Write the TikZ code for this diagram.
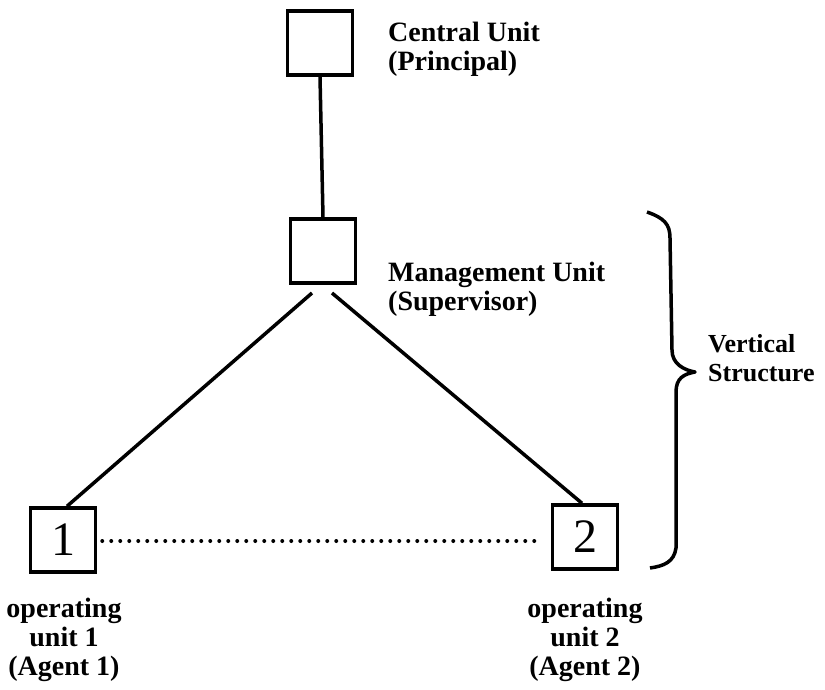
\documentclass[tikz,border=0pt]{standalone}
\usepackage{fontspec}
\setmainfont{Liberation Serif}
\usetikzlibrary{calc}
\begin{document}
\begin{tikzpicture}[x=1pt,y=-1pt,
  unitbox/.style={draw,line width=3.5pt,minimum width=65pt,minimum height=64pt,inner sep=0pt,
    font=\fontsize{48}{50}\selectfont},
  label/.style={font=\bfseries\fontsize{28}{29}\selectfont,inner sep=0pt},
  link/.style={line width=3.5pt},
  dotline/.style={line width=4pt,line cap=round,dash pattern=on 0pt off 9pt}]
\useasboundingbox (0,0) rectangle (825,689);
% boxes
\node[unitbox] (cu) at (320,43) {};
\node[unitbox] (mu) at (323,251) {};
\node[unitbox] (a1) at (63,540) {1};
\node[unitbox] (a2) at (585,537) {2};
% labels (base anchor = last line)
\node[label,anchor=base west,align=left] (cut) at (388,70) {Central Unit\\(Principal)};
\node[label,anchor=base west,align=left] (mut) at (388,310) {Management Unit\\(Supervisor)};
\node[label,anchor=base west,align=left,font=\bfseries\fontsize{26}{29}\selectfont] (vst) at (708,381) {Vertical\\Structure};
\node[label,anchor=base,align=center] (a1t) at (64,675) {operating\\unit 1\\(Agent 1)};
\node[label,anchor=base,align=center] (a2t) at (585,675) {operating\\unit 2\\(Agent 2)};
% connectors
\coordinate (ml) at (312,293);
\coordinate (mr) at (332,293);
\draw[link] (cu.south) -- (mu.north);
\draw[link] (ml) -- ($(a1.north)+(4,0)$);
\draw[link] (mr) -- ($(a2.north)+(-3,0)$);
\draw[dotline] ($(a1.east)+(5,1)$) -- ($(a2.west)+(-16,4)$);
% brace
\draw[line width=3.5pt,line join=round] (647,212) .. controls (664,218) and (670,224) .. (670,238)
  -- (672,350) .. controls (672,364) and (684,370) .. (695,372)
  .. controls (684,374) and (676,378) .. (676,392)
  -- (676,548) .. controls (674,562) and (664,566) .. (650,568);
\end{tikzpicture}
\end{document}
